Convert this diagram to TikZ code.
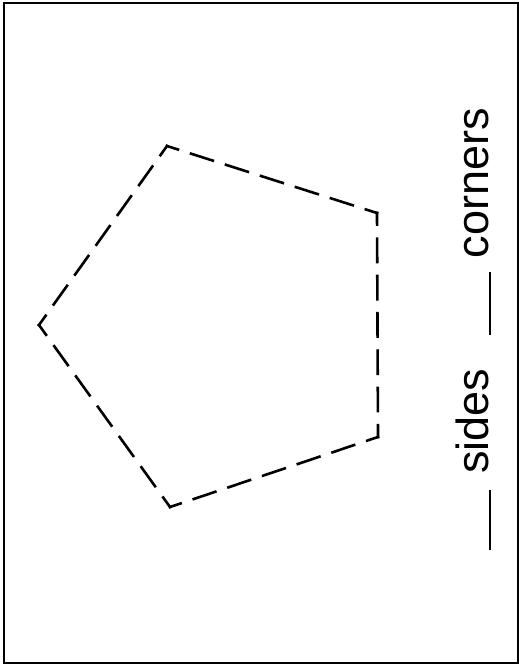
\documentclass[tikz,border=0pt]{standalone}
\usepackage{fontspec}
\setmainfont{Liberation Sans}
\begin{document}
\begin{tikzpicture}[x=1pt,y=-1pt,
  frame/.style={line width=2pt},
  pentline/.style={line width=2.6pt, line cap=rect},
  blank/.style={line width=2pt},
  lbl/.style={rotate=90, anchor=base, inner sep=0pt, font=\fontsize{45}{54}\selectfont}]
\useasboundingbox (0,0) rectangle (519,667);
\node[draw, frame, minimum width=514pt, minimum height=660pt, inner sep=0pt, anchor=north west] (border) at (3,2) {};
\coordinate (A) at (167,146);
\coordinate (B) at (377,213);
\coordinate (C) at (378,437);
\coordinate (D) at (170,507);
\coordinate (E) at (39,325);
\draw[pentline, dash pattern=on 22.9pt off 13.8pt, dash phase=11.45pt] (A) -- (B);
\draw[pentline, dash pattern=on 23.3pt off 14.0pt, dash phase=11.65pt] (B) -- (C);
\draw[pentline, dash pattern=on 22.8pt off 13.8pt, dash phase=11.4pt] (C) -- (D);
\draw[pentline, dash pattern=on 23.3pt off 14.0pt, dash phase=11.65pt] (D) -- (E);
\draw[pentline, dash pattern=on 22.9pt off 13.8pt, dash phase=11.45pt] (E) -- (A);
\node[lbl] (sides) at (488,421) {sides};
\node[lbl] (corners) at (488,183) {corners};
\coordinate (l1a) at (490,550);
\coordinate (l1b) at (490,490);
\coordinate (l2a) at (490,335);
\coordinate (l2b) at (490,272);
\draw[blank] (l1a) -- (l1b);
\draw[blank] (l2a) -- (l2b);
\end{tikzpicture}
\end{document}
